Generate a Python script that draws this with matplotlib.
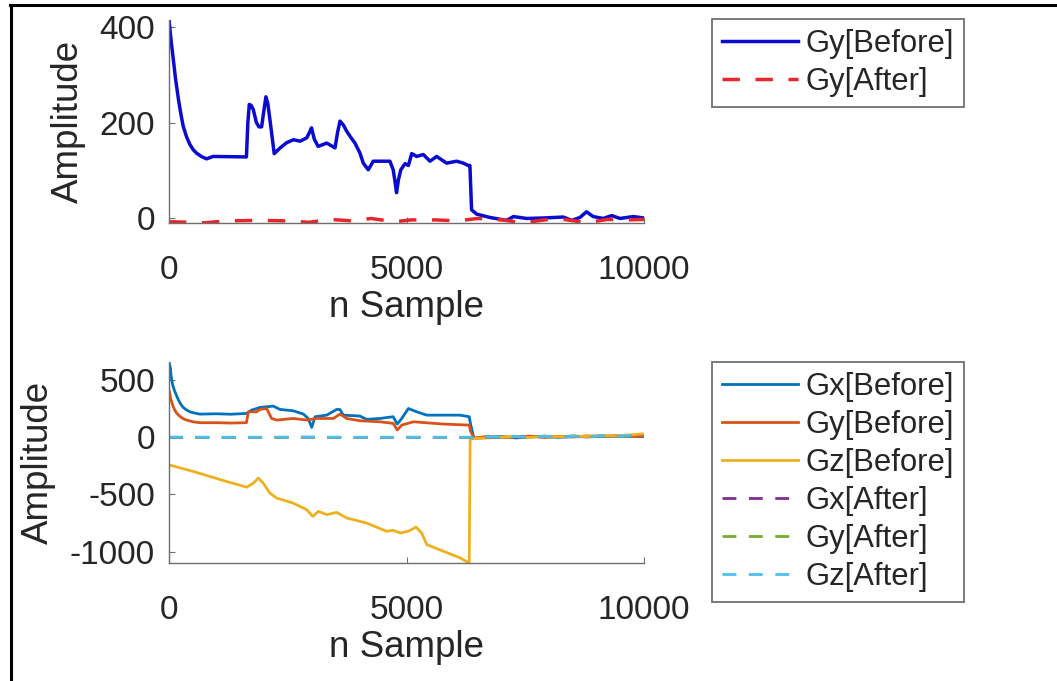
import matplotlib
matplotlib.use("Agg")
import matplotlib.pyplot as plt
from matplotlib.lines import Line2D

plt.rcParams['font.family'] = ['Liberation Sans', 'DejaVu Sans']

# ---------------- data: top panel (Gy only) ----------------
top_x_before = [0, 30, 60, 90, 140, 200, 250, 300, 370, 440, 510, 580, 680, 790, 930,
                1630, 1660, 1690, 1730, 1775, 1840, 1895, 1950, 1990, 2040, 2080, 2125,
                2215, 2340, 2480, 2620, 2760, 2900, 2960, 3000, 3060, 3140, 3320, 3495,
                3550, 3600, 3670, 3740, 3820, 3915, 4020, 4090, 4195, 4300, 4440,
                4650, 4720, 4760, 4790, 4830, 4880, 4970, 5040, 5110, 5215, 5355, 5495,
                5635, 5845, 6055, 6195, 6300, 6335, 6370, 6480, 6760, 7110, 7250, 7530,
                7880, 8300, 8480, 8650, 8790, 8930, 9140, 9320, 9495, 9775, 10000]
top_gy_before = [415, 385, 358, 333, 290, 248, 218, 192, 170, 154, 143, 136, 129, 124, 129,
                 128, 200, 238, 236, 227, 200, 191, 191, 220, 254, 240, 206,
                 135, 147, 158, 164, 161, 168, 180, 189, 165, 150, 157, 147,
                 180, 203, 195, 182, 170, 157, 136, 115, 101, 119, 119,
                 119, 101, 75, 53, 80, 101, 114, 110, 135, 129, 133, 119,
                 129, 115, 119, 115, 110, 110, 17, 8, 1, -5, 3, -1,
                 0, 2, -5, 1, 13, 3, -1, 5, -1, 3, 0]

top_x_after = [0, 90, 760, 1210, 1940, 2430, 2950, 3400, 3840, 4260, 4740, 5100, 5610,
               6070, 6500, 7000, 7470, 7900, 8320, 8800, 9230, 9640, 10000]
top_gy_after = [-8, -8, -10, -6, -5, -6, -9, -3, -6, -1, -8, -4, -4,
                -6, -1, -4, -10, -4, -3, -10, -3, -4, -3]

# ---------------- data: bottom panel (Gx, Gy, Gz) ----------------
tail_x = [6420, 6700, 7000, 7300, 7600, 7900, 8200, 8500, 8800, 9100, 9400, 9700, 10000]

gx_before_x = [0, 30, 45, 70, 90, 120, 150, 200, 250, 300, 370, 440, 550, 650, 1000, 1300,
               1630, 1740, 1915, 2055, 2195, 2335, 2615, 2830, 2930, 3005, 3075, 3320,
               3530, 3600, 3670, 4020, 4160, 4440, 4720, 4805, 4900, 5040, 5215, 5425,
               5775, 6125, 6320, 6350] + tail_x
gx_before = [655, 600, 530, 470, 437, 400, 370, 322, 285, 258, 236, 220, 208, 200, 203, 199,
             206, 235, 258, 264, 270, 241, 229, 200, 162, 84, 177, 191,
             241, 240, 191, 183, 154, 162, 177, 113, 162, 249, 220, 191,
             191, 191, 177, 110,
             -12, -4, 5, -8, 0, 7, -4, 8, 0, 10, 4, 8, 4]

gy_before_x = [0, 40, 65, 90, 120, 150, 200, 250, 300, 372, 500, 650, 1000, 1300, 1630,
               1670, 1845, 1915, 2055, 2160, 2265, 2615, 2900, 3110, 3460, 3600, 3740,
               4020, 4440, 4720, 4805, 4900, 5145, 5775, 6320, 6350] + tail_x
gy_before = [409, 330, 295, 264, 238, 215, 191, 174, 160, 148, 133, 125, 125, 122, 125,
             220, 220, 241, 249, 162, 148, 162, 148, 162, 162, 200, 162,
             142, 133, 119, 61, 104, 133, 113, 104, 49,
             -8, 4, -4, 0, 8, -4, 4, 0, 10, 4, 12, 6, 8]

gz_before_x = [0, 510, 1210, 1635, 1775, 1880, 1985, 2125, 2265, 2615, 2900, 3025, 3145,
               3320, 3530, 3740, 4160, 4580, 4720, 4865, 5040, 5200, 5320, 5425, 5775,
               6125, 6320, 6340] + tail_x
gz_before = [-243, -301, -388, -438, -403, -359, -403, -490, -533, -577, -635, -693, -649,
             -678, -658, -707, -751, -823, -814, -838, -823, -786, -838, -939, -997,
             -1055, -1100, -20,
             -14, -8, 0, 4, -4, 8, 0, 10, 4, 14, 8, 18, 28]

after_x = [0, 1000, 2000, 3000, 4000, 5000, 6000, 6340] + tail_x
gx_after = [-5, -3, -4, -2, -5, -3, -4, -3, -10, 0, -5, 4, -3, 5, -2, 4, 0, 7, 3, 5, 2]
gy_after = [-3, -4, -2, -3, -4, -2, -3, -3, -7, 3, -2, 5, 0, 4, 2, 7, 4, 8, 5, 8, 7]
gz_after = [-1, -2, -3, -1, -2, -3, -2, -2, -9, 2, 0, 5, -4, 7, 0, 5, 3, 10, 5, 12, 10]

x_ticks = [0, 5000, 10000]
top_y_ticks = [0, 200, 400]
bottom_y_ticks = [-1000, -500, 0, 500]

# ---------------- figure ----------------
W, H = 1057, 681
fig = plt.figure(figsize=(W / 100, H / 100), dpi=100)
fig.patch.set_facecolor('white')

TXT = '#262626'
AXC = '#6e6e6e'
TICK_FS = 24
LABEL_FS = 26.5
LEG_FS = 22.3


def px_box(left, right, top, bottom):
    return [left / W, 1 - bottom / H, (right - left) / W, (bottom - top) / H]


def style_axes(ax):
    for s in ('top', 'right'):
        ax.spines[s].set_visible(False)
    for s in ('left', 'bottom'):
        ax.spines[s].set_color(AXC)
        ax.spines[s].set_linewidth(1.0)
    ax.tick_params(direction='in', length=4, width=0.8, color=AXC,
                   labelsize=TICK_FS, labelcolor=TXT)
    ax.tick_params(axis='y', pad=10)
    ax.tick_params(axis='x', pad=23)
    ax.set_xlim(0, 10000)
    ax.set_xticks(x_ticks)
    ax.set_xticklabels([str(t) for t in x_ticks])
    ax.set_xlabel('n Sample', fontsize=LABEL_FS, color=TXT, labelpad=3)
    ax.set_ylabel('Amplitude', fontsize=LABEL_FS, color=TXT, labelpad=10)


dash = (0, (5, 4.5))

# top panel
ax1 = fig.add_axes(px_box(169, 644, 20, 223))
ax1.plot(top_x_before, top_gy_before, color='#0b0bd0', lw=2.5, label='Gy[Before]')
ax1.plot(top_x_after, top_gy_after, color='#e8262b', lw=2.5, linestyle=dash,
         label='Gy[After]')
ax1.set_ylim(-10.5, 415)
ax1.set_yticks(top_y_ticks)
ax1.set_yticklabels([str(t) for t in top_y_ticks])
style_axes(ax1)

leg_kw = dict(loc='upper left', fontsize=LEG_FS, frameon=True, fancybox=False,
              handlelength=2.45, handletextpad=0.25, borderpad=0.32,
              labelspacing=0.26, borderaxespad=0)
leg1 = ax1.legend(bbox_to_anchor=(712 / W, 1 - 19 / H),
                  bbox_transform=fig.transFigure, **leg_kw)

# bottom panel
ax2 = fig.add_axes(px_box(169, 644, 362, 563))
ax2.plot(gx_before_x, gx_before, color='#0072BD', lw=2.0, label='Gx[Before]')
ax2.plot(gy_before_x, gy_before, color='#D95319', lw=2.0, label='Gy[Before]')
ax2.plot(gz_before_x, gz_before, color='#EDB120', lw=2.0, label='Gz[Before]')
ax2.plot(after_x, gx_after, color='#7E2F8E', lw=2.0, linestyle=dash, label='Gx[After]')
ax2.plot(after_x, gy_after, color='#77AC30', lw=2.0, linestyle=dash, label='Gy[After]')
ax2.plot(after_x, gz_after, color='#4DBEEE', lw=2.0, linestyle=dash, label='Gz[After]')
ax2.set_ylim(-1100, 655)
ax2.set_yticks(bottom_y_ticks)
ax2.set_yticklabels([str(t) for t in bottom_y_ticks])
style_axes(ax2)

leg2 = ax2.legend(bbox_to_anchor=(712 / W, 1 - 362 / H),
                  bbox_transform=fig.transFigure, **leg_kw)

for leg in (leg1, leg2):
    fr = leg.get_frame()
    fr.set_edgecolor('#707070')
    fr.set_linewidth(1.3)
    fr.set_facecolor('white')
    fr.set_alpha(1)
    for t in leg.get_texts():
        t.set_color(TXT)

# outer frame lines along the top and left edges
fig.add_artist(Line2D([10 / W, 1.0], [1 - 5 / H, 1 - 5 / H], transform=fig.transFigure,
                      color='black', lw=2.2))
fig.add_artist(Line2D([11 / W, 11 / W], [0.0, 1 - 5 / H], transform=fig.transFigure,
                      color='black', lw=2.2))

fig.savefig('out.png', dpi=100, facecolor='white')
